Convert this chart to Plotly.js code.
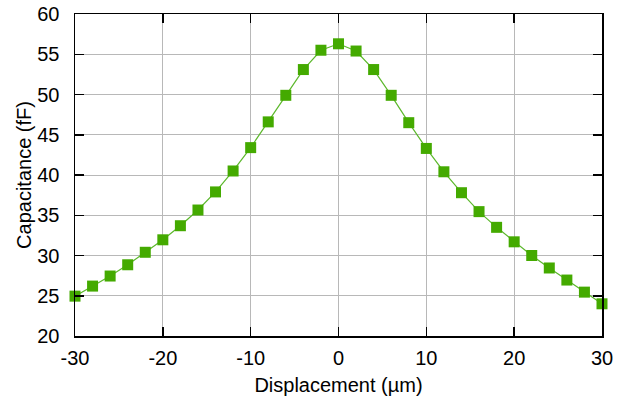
<!DOCTYPE html>
<html>
<head>
<meta charset="utf-8">
<script src="https://cdn.plot.ly/plotly-3.0.1.min.js"></script>
<style>
  html, body { margin: 0; padding: 0; background: #fff; }
  #chart { width: 628px; height: 402px; }
</style>
</head>
<body>
<div id="chart"></div>
<script>
// Displacement sweep (µm) and measured capacitance (fF)
const displacement = [-30, -28, -26, -24, -22, -20, -18, -16, -14, -12, -10, -8, -6, -4, -2,
                      0, 2, 4, 6, 8, 10, 12, 14, 16, 18, 20, 22, 24, 26, 28, 30];
const capacitance = [24.95, 26.2, 27.45, 28.85, 30.4, 31.95, 33.7, 35.65, 37.9, 40.5, 43.4, 46.6, 49.9, 53.1, 55.5,
                     56.3, 55.4, 53.1, 49.9, 46.5, 43.3, 40.4, 37.8, 35.45, 33.5, 31.7, 30.0, 28.45, 26.95, 25.45, 24.0];

const xTickVals = [-30, -20, -10, 0, 10, 20, 30];
const xTickText = ['-30', '-20', '-10', '0', '10', '20', '30'];
const yTickVals = [20, 25, 30, 35, 40, 45, 50, 55, 60];
const yTickText = ['20', '25', '30', '35', '40', '45', '50', '55', '60'];

const font = { family: 'Liberation Sans, Arial, sans-serif', size: 20, color: '#000' };

const axisBase = {
  showline: true,
  linecolor: '#000',
  linewidth: 1.5,
  mirror: 'ticks',
  ticks: 'inside',
  ticklen: 9,
  tickwidth: 1.5,
  tickcolor: '#000',
  showgrid: true,
  gridcolor: '#b8b8b8',
  gridwidth: 1,
  zeroline: false,
  tickfont: font
};

const trace = {
  x: displacement,
  y: capacitance,
  type: 'scatter',
  mode: 'lines+markers',
  line: { color: '#5cb82c', width: 1.2 },
  marker: { symbol: 'square', size: 11, color: '#44aa00', line: { width: 0 } },
  cliponaxis: false,
  showlegend: false
};

const layout = {
  width: 628,
  height: 402,
  margin: { l: 74.5, r: 25.5, t: 13.5, b: 65.5 },
  paper_bgcolor: '#fff',
  plot_bgcolor: '#fff',
  font: font,
  xaxis: Object.assign({}, axisBase, {
    range: [-30, 30],
    tickvals: xTickVals,
    ticktext: xTickText,
    ticklabelstandoff: 3,
    title: { text: 'Displacement (µm)', font: font, standoff: 10 }
  }),
  yaxis: Object.assign({}, axisBase, {
    range: [20, 60],
    tickvals: yTickVals,
    ticktext: yTickText,
    ticklabelstandoff: 10,
    title: { text: 'Capacitance (fF)', font: font, standoff: 0 }
  })
};

Plotly.newPlot('chart', [trace], layout, { staticPlot: true, displayModeBar: false });
</script>
</body>
</html>
